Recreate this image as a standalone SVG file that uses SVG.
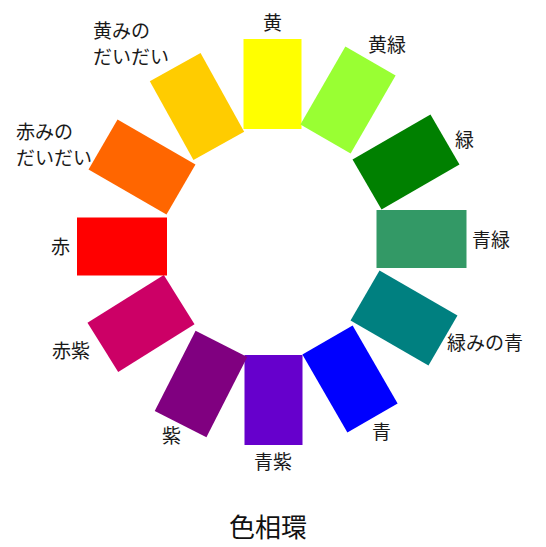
<svg xmlns="http://www.w3.org/2000/svg" width="546" height="547" viewBox="0 0 546 547">
<style>
.lbl{font-family:"Noto Sans CJK JP","Noto Sans CJK SC",sans-serif;font-size:19px;fill:#1a1a1a}
.title{font-family:"Noto Sans CJK JP","Noto Sans CJK SC",sans-serif;font-size:26px;fill:#111}
</style>
<defs>
<rect id="seg" x="-29" y="-45" width="58" height="90"/>
</defs>
<rect width="546" height="547" fill="#fff"/>
<g id="n-ki"><use href="#seg" fill="#FFFF00" transform="translate(272.5,84)"/><text class="lbl" x="263" y="30">黄</text></g>
<g id="n-kimidori"><use href="#seg" fill="#99FF33" transform="translate(348,100) rotate(30)"/><text class="lbl" x="368" y="52">黄緑</text></g>
<g id="n-midori"><use href="#seg" fill="#008000" transform="translate(406,162) rotate(60)"/><text class="lbl" x="455" y="147">緑</text></g>
<g id="n-aomidori"><use href="#seg" fill="#339966" transform="translate(421.5,239) rotate(90)"/><text class="lbl" x="472" y="247">青緑</text></g>
<g id="n-midorimino-ao"><use href="#seg" fill="#008080" transform="translate(404,318) rotate(120)"/><text class="lbl" x="447" y="350">緑みの青</text></g>
<g id="n-ao"><use href="#seg" fill="#0000FF" transform="translate(350,379) rotate(150)"/><text class="lbl" x="372" y="439">青</text></g>
<g id="n-aomurasaki"><use href="#seg" fill="#6600CC" transform="translate(273.5,400) rotate(180)"/><text class="lbl" x="254" y="469">青紫</text></g>
<g id="n-murasaki"><use href="#seg" fill="#800080" transform="translate(201,384) rotate(207)"/><text class="lbl" x="162" y="443">紫</text></g>
<g id="n-akamurasaki"><use href="#seg" fill="#CC0066" transform="translate(141,323.5) rotate(238)"/><text class="lbl" x="52" y="358">赤紫</text></g>
<g id="n-aka"><use href="#seg" fill="#FF0000" transform="translate(122,246.5) rotate(270)"/><text class="lbl" x="51" y="254">赤</text></g>
<g id="n-akamino-daidai"><use href="#seg" fill="#FF6600" transform="translate(142,167) rotate(300)"/><text class="lbl" x="16" y="139">赤みの</text><text class="lbl" x="16" y="165">だいだい</text></g>
<g id="n-kimino-daidai"><use href="#seg" fill="#FFCC00" transform="translate(197,106.5) rotate(331)"/><text class="lbl" x="93" y="38">黄みの</text><text class="lbl" x="93" y="64">だいだい</text></g>
<g id="connectors"/>
<text class="title" x="229" y="537">色相環</text>
</svg>
